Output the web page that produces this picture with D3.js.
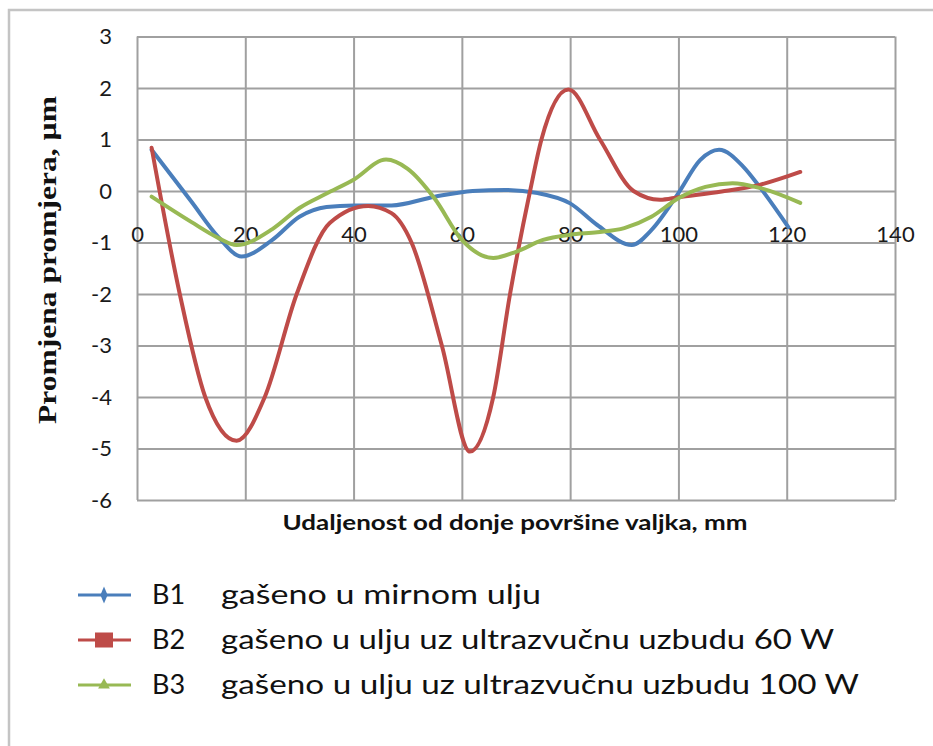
<!DOCTYPE html>
<html>
<head>
<meta charset="utf-8">
<script src="https://cdn.jsdelivr.net/npm/d3@7"></script>
<style>
  body { margin: 0; background: #fff; }
  svg { display: block; }
</style>
</head>
<body>
<svg id="chart" width="933" height="746"></svg>
<script>
// Axis ticks
const xTicks = [0, 20, 40, 60, 80, 100, 120, 140];
const yTicks = [3, 2, 1, 0, -1, -2, -3, -4, -5, -6];

// Change of diameter (µm) along the roller height (mm), [distance, change]
const b1 = [
  [2.7, 0.80], [10, -0.20], [15, -0.89], [19.3, -1.27], [25, -0.95], [30, -0.50],
  [35, -0.31], [40, -0.28], [47, -0.28], [55, -0.11], [62, 0.00], [68, 0.02],
  [74, -0.04], [80, -0.24], [85, -0.66], [91.4, -1.05], [95, -0.76], [100, -0.04],
  [104, 0.60], [107.5, 0.80], [112, 0.47], [115, 0.08], [120.3, -0.70]
];
const b2 = [
  [2.7, 0.84], [7.9, -2.00], [12.6, -4.00], [18.4, -4.85], [23.6, -4.00], [29.5, -2.00],
  [35.6, -0.62], [42.7, -0.29], [47, -0.43], [50.7, -1.00], [56.3, -3.00], [61.5, -5.06],
  [65.8, -4.00], [68.9, -2.00], [72.6, 0.00], [74.7, 1.00], [79.7, 1.97], [85.5, 1.00],
  [91.7, 0.00], [96.6, -0.17], [100, -0.12], [108, -0.01], [115, 0.12], [122.5, 0.37]
];
const b3 = [
  [2.7, -0.11], [10, -0.60], [15, -0.91], [18.4, -1.05], [25, -0.74], [30, -0.33],
  [35, -0.05], [40, 0.22], [46, 0.61], [50, 0.43], [55, -0.15], [60, -0.95],
  [65.8, -1.30], [70, -1.18], [75, -0.95], [80, -0.85], [85, -0.80], [90, -0.72],
  [95, -0.50], [100, -0.14], [105, 0.08], [110, 0.15], [115, 0.06], [122.5, -0.23]
];

const seriesNames = ["B1", "B2", "B3"];
const seriesLabels = [
  "gašeno u mirnom ulju",
  "gašeno u ulju uz ultrazvučnu uzbudu 60 W",
  "gašeno u ulju uz ultrazvučnu uzbudu 100 W"
];

const xTitle = "Udaljenost od donje površine valjka, mm";
const yTitle = "Promjena promjera, µm";

const colors = ["#4a7ebb", "#be4b48", "#98b954"];
const series = [b1, b2, b3];

const svg = d3.select("#chart");

// outer chart frame
svg.append("rect")
  .attr("x", 9).attr("y", 10)
  .attr("width", 960).attr("height", 760)
  .attr("fill", "#fff")
  .attr("stroke", "#c4c4c4").attr("stroke-width", 2.5);

const plotLeft = 137, plotRight = 895, plotTop = 36.5, plotBottom = 500;
const x = d3.scaleLinear().domain([0, 140]).range([plotLeft, plotRight]);
const y = d3.scaleLinear().domain([-6, 3]).range([plotBottom, plotTop]);

const gridColor = "#a0a0a0";
const tickFont = "Lato, 'Open Sans', sans-serif";

// horizontal grid + y labels
const gy = svg.append("g")
  .attr("transform", `translate(${plotLeft},0)`)
  .call(d3.axisLeft(y).tickValues(yTicks).tickSize(-(plotRight - plotLeft)).tickPadding(25)
    .tickFormat(d3.format("d")));
gy.select(".domain").remove();
gy.selectAll(".tick line").attr("stroke", gridColor).attr("stroke-width", 2);
gy.selectAll(".tick text")
  .attr("font-family", tickFont).attr("font-size", 22).attr("fill", "#1a1a1a")
  .text(d => d < 0 ? "-" + Math.abs(d) : d);

// vertical grid
const gxg = svg.append("g")
  .attr("transform", `translate(0,${plotBottom})`)
  .call(d3.axisBottom(x).tickValues(xTicks).tickSize(-(plotBottom - plotTop)).tickFormat(""));
gxg.select(".domain").remove();
gxg.selectAll(".tick line").attr("stroke", gridColor).attr("stroke-width", 2);

// x labels hang under the zero line
const gx = svg.append("g")
  .attr("transform", `translate(0,${y(0)})`)
  .call(d3.axisBottom(x).tickValues(xTicks).tickSize(0).tickPadding(35));
gx.select(".domain").remove();
gx.selectAll(".tick text")
  .attr("font-family", tickFont).attr("font-size", 22).attr("fill", "#1a1a1a");

// smoothed series lines
const line = d3.line()
  .x(d => x(d[0])).y(d => y(d[1]))
  .curve(d3.curveMonotoneX);

series.forEach((s, i) => {
  svg.append("path")
    .datum(s)
    .attr("fill", "none")
    .attr("stroke", colors[i])
    .attr("stroke-width", 4)
    .attr("stroke-linejoin", "round")
    .attr("stroke-linecap", "round")
    .attr("d", line);
});

// axis titles
svg.append("text")
  .attr("x", 515).attr("y", 530)
  .attr("text-anchor", "middle")
  .attr("font-family", tickFont).attr("font-weight", "bold")
  .attr("font-size", 20).attr("fill", "#111")
  .attr("textLength", 465).attr("lengthAdjust", "spacingAndGlyphs")
  .text(xTitle);

svg.append("text")
  .attr("transform", "translate(56,260) rotate(-90)")
  .attr("text-anchor", "middle")
  .attr("font-family", "'Liberation Serif', 'DejaVu Serif', serif")
  .attr("font-weight", "bold").attr("font-size", 26).attr("fill", "#111")
  .attr("textLength", 328).attr("lengthAdjust", "spacingAndGlyphs")
  .text(yTitle);

// legend
const legendRows = [595, 640, 685];
const labelWidths = [320, 613, 638];
const legend = svg.append("g");
seriesNames.forEach((name, i) => {
  const cy = legendRows[i];
  const g = legend.append("g");
  g.append("line")
    .attr("x1", 78).attr("x2", 131).attr("y1", cy).attr("y2", cy)
    .attr("stroke", colors[i]).attr("stroke-width", 3);
  const mx = 104;
  if (i === 0) {
    g.append("path").attr("d", d3.symbol(d3.symbolDiamond, 70)())
      .attr("transform", `translate(${mx},${cy}) scale(0.8,1.1)`)
      .attr("fill", colors[i]);
  } else if (i === 1) {
    g.append("rect").attr("x", mx - 9).attr("y", cy - 7.5).attr("width", 18).attr("height", 15)
      .attr("fill", colors[i]);
  } else {
    g.append("path").attr("d", d3.symbol(d3.symbolTriangle, 60)())
      .attr("transform", `translate(${mx},${cy})`)
      .attr("fill", colors[i]);
  }
  g.append("text")
    .attr("x", 152).attr("y", cy + 9)
    .attr("font-family", tickFont).attr("font-size", 27).attr("fill", "#111")
    .text(name);
  g.append("text")
    .attr("x", 221).attr("y", cy + 9)
    .attr("font-family", tickFont).attr("font-size", 27).attr("fill", "#111")
    .attr("textLength", labelWidths[i]).attr("lengthAdjust", "spacingAndGlyphs")
    .text(seriesLabels[i]);
});
</script>
</body>
</html>
